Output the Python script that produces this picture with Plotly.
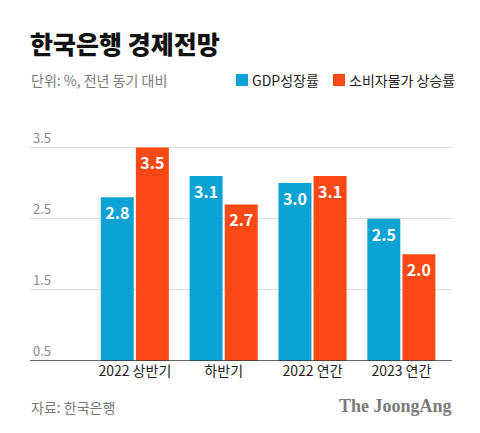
import plotly.graph_objects as go

categories = ["2022 상반기", "하반기", "2022 연간", "2023 연간"]
gdp_growth = [2.8, 3.1, 3.0, 2.5]
cpi_growth = [3.5, 2.7, 3.1, 2.0]
y_ticks = [0.5, 1.5, 2.5, 3.5]
series_names = ["GDP성장률", "소비자물가 상승률"]

BLUE = "#0aa3d3"
ORANGE = "#fb4916"
FONT = "Noto Sans CJK KR"
BASE = 0.5
Y_TOP = 3.9

x_pos = list(range(len(categories)))

fig = go.Figure()
for name, vals, color in zip(series_names, [gdp_growth, cpi_growth], [BLUE, ORANGE]):
    fig.add_trace(go.Bar(
        x=x_pos, y=[v - BASE for v in vals], base=BASE, name=name,
        marker=dict(color=color, line=dict(width=0)),
        text=[f"{v:.1f}" for v in vals],
        textposition="inside", insidetextanchor="end", textangle=0,
        textfont=dict(family=FONT, size=16, color="white", weight="bold"),
        hoverinfo="skip",
    ))

# plot area in pixels
W, H = 480, 433
L, R, B = 30, 452, 361
UNIT = 71.2
T = round(B - (Y_TOP - BASE) * UNIT)

fig.update_layout(
    width=W, height=H,
    margin=dict(l=L, r=W - R, t=T, b=H - B, autoexpand=False),
    paper_bgcolor="white", plot_bgcolor="white",
    barmode="group", bargap=0.21, bargroupgap=0.06,
    showlegend=False,
    font=dict(family=FONT),
    xaxis=dict(
        range=[-1.18, 3.57], tickvals=x_pos, ticktext=categories,
        showgrid=False, zeroline=False, showline=False, automargin=False,
        tickfont=dict(family=FONT, size=14, color="#222222"),
        ticks="", fixedrange=True,
    ),
    yaxis=dict(
        range=[BASE, Y_TOP], tickvals=y_ticks, ticktext=[f"{t:.1f}" for t in y_ticks],
        ticklabelposition="inside top", automargin=False,
        tickfont=dict(family=FONT, size=13, color="#8a8a8a"),
        showgrid=True, gridcolor="#dcdcdc", gridwidth=1,
        zeroline=False, showline=False, ticks="", fixedrange=True,
    ),
)

def px(x):
    return (x - L) / (R - L)

def py(y):
    return (B - y) / (B - T)

# baseline
fig.add_shape(type="line", xref="paper", yref="y", x0=0, x1=1, y0=BASE, y1=BASE,
              line=dict(color="#333333", width=1.5))

# legend swatches
fig.add_shape(type="rect", xref="paper", yref="paper", x0=px(236), x1=px(248),
              y0=py(86), y1=py(74), fillcolor=BLUE, line_width=0)
fig.add_shape(type="rect", xref="paper", yref="paper", x0=px(333), x1=px(345),
              y0=py(86), y1=py(74), fillcolor=ORANGE, line_width=0)

def ann(text, x, y, size, color, anchor="left", family=FONT, weight="normal"):
    fig.add_annotation(text=text, xref="paper", yref="paper", x=px(x), y=py(y),
                       showarrow=False, xanchor=anchor, yanchor="middle",
                       font=dict(family=family, size=size, color=color, weight=weight))

ann("한국은행 경제전망", 28, 43, 25, "#111111", weight=900)
ann("단위: %, 전년 동기 대비", 29, 80, 14, "#7a7a7a")
ann(series_names[0], 250, 80, 14, "#222222")
ann(series_names[1], 347, 80, 14, "#222222")
ann("자료: 한국은행", 29, 407, 14, "#7a7a7a")
ann("The JoongAng", 454, 406, 18, "#7a7a7a", anchor="right",
    family="Liberation Serif", weight="bold")

fig.write_html(
    "out.html",
    config={"displayModeBar": False, "staticPlot": True},
    post_script="document.body.style.margin='0';document.body.style.overflow='hidden';",
)
